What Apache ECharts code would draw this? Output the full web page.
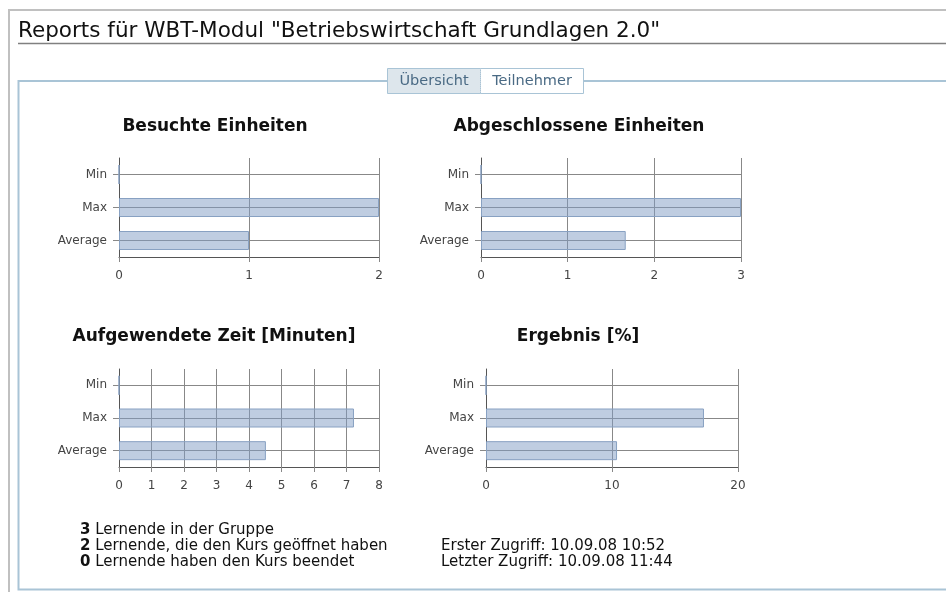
<!DOCTYPE html>
<html>
<head>
<meta charset="utf-8">
<script src="https://cdn.jsdelivr.net/npm/echarts@6/dist/echarts.min.js"></script>
<style>
html,body{margin:0;padding:0;background:#fff;}
#c{width:946px;height:592px;}
</style>
</head>
<body>
<div id="c"></div>
<script>
// ---- data ----
const categories = ['Min', 'Max', 'Average'];
const chartTitles = ['Besuchte Einheiten', 'Abgeschlossene Einheiten', 'Aufgewendete Zeit [Minuten]', 'Ergebnis [%]'];
const besuchteEinheiten = [0, 2, 1];
const abgeschlosseneEinheiten = [0, 3, 1.67];
const aufgewendeteZeit = [0, 7.23, 4.52];
const ergebnis = [0, 17.3, 10.4];
const axisMax = [2, 3, 8, 20];
const axisInterval = [1, 1, 1, 10];
const pageTitle = 'Reports für WBT-Modul "Betriebswirtschaft Grundlagen 2.0"';
const tabLabels = ['Übersicht', 'Teilnehmer'];
const statCounts = [3, 2, 0];
const statTexts = ['Lernende in der Gruppe', 'Lernende, die den Kurs geöffnet haben', 'Lernende haben den Kurs beendet'];
const accessTexts = ['Erster Zugriff: 10.09.08 10:52', 'Letzter Zugriff: 10.09.08 11:44'];

const seriesData = [besuchteEinheiten, abgeschlosseneEinheiten, aufgewendeteZeit, ergebnis];

// ---- layout ----
const grids = [
  {left: 119, top: 158, width: 260, height: 99},
  {left: 481, top: 158, width: 260, height: 99},
  {left: 119, top: 369, width: 260, height: 98},
  {left: 486, top: 369, width: 252, height: 98}
];
const titlePos = [[215, 118], [579, 118], [214, 328], [578, 328]];

const FONT = '"DejaVu Sans", Verdana, sans-serif';
const gridColor = '#888888';
const axisColor = '#555555';

const chart = echarts.init(document.getElementById('c'), null, {renderer: 'canvas'});

const option = {
  backgroundColor: '#fff',
  animation: false,
  title: chartTitles.map((t, i) => ({
    text: t,
    left: titlePos[i][0],
    top: titlePos[i][1],
    textAlign: 'center',
    padding: 0,
    textStyle: {fontFamily: FONT, fontSize: 17, fontWeight: 'bold', color: '#111'}
  })),
  grid: grids.map(g => Object.assign({containLabel: false}, g)),
  xAxis: grids.map((g, i) => ({
    type: 'value',
    gridIndex: i,
    min: 0,
    max: axisMax[i],
    interval: axisInterval[i],
    axisLine: {show: true, lineStyle: {color: axisColor, width: 1}},
    axisTick: {show: true, length: 5, lineStyle: {color: gridColor}},
    axisLabel: {margin: 13, fontFamily: FONT, fontSize: 12, color: '#444'},
    splitLine: {show: true, lineStyle: {color: gridColor, width: 1}}
  })),
  yAxis: grids.map((g, i) => ({
    type: 'category',
    gridIndex: i,
    data: categories,
    inverse: true,
    axisLine: {show: true, lineStyle: {color: axisColor, width: 1}},
    axisTick: {show: true, length: 6, alignWithLabel: true, lineStyle: {color: gridColor}},
    axisLabel: {margin: 12, fontFamily: FONT, fontSize: 12, color: '#444'},
    splitLine: {show: true, alignWithLabel: true, lineStyle: {color: gridColor, width: 1}}
  })),
  series: seriesData.map((d, i) => ({
    type: 'bar',
    xAxisIndex: i,
    yAxisIndex: i,
    data: d,
    barWidth: 19,
    itemStyle: {color: 'rgba(128,156,196,0.5)', borderColor: '#88a1c2', borderWidth: 1}
  })),
  graphic: [
    // outer gray frame
    {type: 'line', shape: {x1: 8, y1: 10, x2: 946, y2: 10}, style: {stroke: '#c0c0c0', lineWidth: 2}, silent: true},
    {type: 'line', shape: {x1: 9, y1: 10, x2: 9, y2: 592}, style: {stroke: '#c0c0c0', lineWidth: 2}, silent: true},
    // page title
    {type: 'text', x: 18, y: 31, style: {text: pageTitle, font: '21.5px ' + FONT, fill: '#111', verticalAlign: 'middle'}, silent: true},
    {type: 'line', shape: {x1: 18, y1: 43.5, x2: 946, y2: 43.5}, style: {stroke: '#808080', lineWidth: 1.5}, silent: true},
    // fieldset
    {type: 'polyline', shape: {points: [[946, 81], [18.5, 81], [18.5, 589.5], [946, 589.5]]}, style: {stroke: '#a9c4d6', lineWidth: 2, fill: null}, silent: true},
    // tabs
    {type: 'rect', shape: {x: 387.5, y: 68.5, width: 93, height: 25}, style: {fill: '#dde6ec', stroke: '#a9c4d6', lineWidth: 1}, silent: true},
    {type: 'rect', shape: {x: 480.5, y: 68.5, width: 103, height: 25}, style: {fill: '#ffffff', stroke: '#a9c4d6', lineWidth: 1}, silent: true},
    {type: 'line', shape: {x1: 480.5, y1: 69, x2: 480.5, y2: 93}, style: {stroke: '#c8d6e0', lineWidth: 1, lineDash: [1, 1]}, silent: true},
    {type: 'text', x: 434, y: 81, style: {text: tabLabels[0], font: '14.5px ' + FONT, fill: '#4a6a84', align: 'center', verticalAlign: 'middle'}, silent: true},
    {type: 'text', x: 532, y: 81, style: {text: tabLabels[1], font: '14.5px ' + FONT, fill: '#4a6a84', align: 'center', verticalAlign: 'middle'}, silent: true},
    // bottom stats
    ...statCounts.map((n, i) => ({
      type: 'text', x: 80, y: 530 + i * 16,
      style: {
        text: '{b|' + n + '} ' + statTexts[i],
        font: '15px ' + FONT, fill: '#111', verticalAlign: 'middle',
        rich: {b: {fontWeight: 'bold', fontSize: 15, fontFamily: FONT, fill: '#111'}}
      }, silent: true
    })),
    ...accessTexts.map((t, i) => ({
      type: 'text', x: 441, y: 546 + i * 16,
      style: {text: t, font: '15px ' + FONT, fill: '#111', verticalAlign: 'middle'}, silent: true
    }))
  ]
};
chart.setOption(option);
</script>
</body>
</html>
